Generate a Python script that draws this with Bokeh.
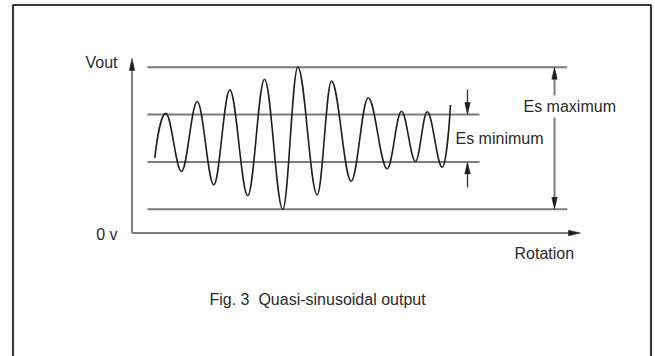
from bokeh.plotting import figure
from bokeh.models import Range1d, ColumnDataSource
from bokeh.embed import file_html
from bokeh.resources import INLINE
from bokeh.core.properties import value

# ---- data (x: rotation units, y: volts, arbitrary units) ----
levels = [1.0, 3.0, 5.0, 7.0]          # Es max low, Es min low, Es min high, Es max high
wave_x = [2.28, 3.38, 4.95, 6.52, 8.18, 9.78, 11.58, 13.25, 15.08, 16.58,
          18.52, 19.95, 21.92, 23.62, 25.52, 26.95, 28.35, 29.52, 31.02, 31.85]
wave_y = [3.17, 5.05, 2.60, 5.55, 2.03, 6.04, 1.58, 6.49, 1.00, 7.00,
          1.61, 6.41, 2.19, 5.71, 2.71, 5.14, 3.02, 5.12, 2.78, 5.41]
outer_line_x = [1.55, 43.52]   # extent of Es maximum lines
inner_line_x = [1.55, 34.75]   # extent of Es minimum lines
x_axis_end = 44.85
y_axis_end = 7.37
esmax_x = 42.25
esmin_x = 33.55
esmin_tail = [6.06, 1.92]
esmax_gap = [5.80, 4.88]

labels = ["Vout", "0 v", "Es maximum", "Es minimum", "Rotation",
          "Fig. 3\u00a0 Quasi-sinusoidal output"]
label_x = [-1.45, -1.45, 39.15, 32.35, 38.25, 7.75]
label_y = [7.21, -0.06, 5.35, 4.00, -0.85, -2.82]
label_align = ["right", "right", "left", "left", "left", "left"]

# ---- scale helpers (pixel size of units) ----
PX_X = 10.0    # px per x unit
PX_Y = 23.69   # px per y unit
W, H = 655, 356
x0_px, y0_px = 131.5, 232.5

p = figure(width=W, height=H, output_backend="svg", toolbar_location=None,
           x_range=Range1d(-x0_px / PX_X, (W - x0_px) / PX_X),
           y_range=Range1d(-(H - y0_px) / PX_Y, y0_px / PX_Y),
           min_border=0, margin=(0, 0, 0, 0))
p.axis.visible = False
p.grid.visible = False
p.outline_line_color = None
p.background_fill_color = "white"
p.border_fill_color = "white"

GRAY = "#7c7c7c"
DARK = "#1e1e1e"

# outer frame
fx0, fx1 = (12.5 - x0_px) / PX_X, (650.5 - x0_px) / PX_X
fy_top, fy_bot = (y0_px - 4.5) / PX_Y, (y0_px - 380) / PX_Y
p.line([fx0, fx0, fx1, fx1], [fy_bot, fy_top, fy_top, fy_bot],
       line_color="#3a3a3a", line_width=2.2)

# level lines
for lv in (levels[0], levels[3]):
    p.line(outer_line_x, [lv, lv], line_color=GRAY, line_width=2)
for lv in (levels[1], levels[2]):
    p.line(inner_line_x, [lv, lv], line_color=GRAY, line_width=2)

# axes
p.line([0, 0], [0, y_axis_end - 0.3], line_color=GRAY, line_width=2)
p.line([0, x_axis_end - 0.8], [0, 0], line_color=GRAY, line_width=2)

def head(tx, ty, direction, length_px=12, width_px=5.5):
    if direction in ("up", "down"):
        L = length_px / PX_Y * (1 if direction == "down" else -1)
        w = width_px / 2 / PX_X
        return [tx - w, tx, tx + w], [ty + L, ty, ty + L]
    L = length_px / PX_X
    w = width_px / 2 / PX_Y
    return [tx - L, tx, tx - L], [ty + w, ty, ty - w]

heads_xs, heads_ys = [], []
for args in [(0, y_axis_end, "up"), (x_axis_end, 0, "right"),
             (esmax_x, levels[3], "up"), (esmax_x, levels[0], "down"),
             (esmin_x, levels[2], "down"), (esmin_x, levels[1], "up")]:
    hx, hy = head(*args)
    heads_xs.append(hx)
    heads_ys.append(hy)

# Es maximum dimension line (with gap for text)
p.line([esmax_x, esmax_x], [levels[3] - 0.3, esmax_gap[0]], line_color=GRAY, line_width=2)
p.line([esmax_x, esmax_x], [esmax_gap[1], levels[0] + 0.3], line_color=GRAY, line_width=2)
# Es minimum arrows
p.line([esmin_x, esmin_x], [esmin_tail[0], levels[2] + 0.3], line_color="#333333", line_width=1.3)
p.line([esmin_x, esmin_x], [esmin_tail[1], levels[1] - 0.3], line_color="#333333", line_width=1.3)

p.patches(heads_xs, heads_ys, fill_color=DARK, line_color=DARK, line_width=0.5)

# wave as smooth bezier segments between extrema
a = 0.36
seg = dict(x0=[], y0=[], x1=[], y1=[], cx0=[], cy0=[], cx1=[], cy1=[])
n = len(wave_x)
for i in range(n - 1):
    xa, ya, xb, yb = wave_x[i], wave_y[i], wave_x[i + 1], wave_y[i + 1]
    dx = xb - xa
    if i == 0:
        c0 = (xa + 0.25 * dx, ya + 0.55 * (yb - ya))
    else:
        c0 = (xa + a * dx, ya)
    if i == n - 2:
        c1 = (xb - 0.25 * dx, yb - 0.55 * (yb - ya))
    else:
        c1 = (xb - a * dx, yb)
    seg["x0"].append(xa); seg["y0"].append(ya)
    seg["x1"].append(xb); seg["y1"].append(yb)
    seg["cx0"].append(c0[0]); seg["cy0"].append(c0[1])
    seg["cx1"].append(c1[0]); seg["cy1"].append(c1[1])
p.bezier(x0="x0", y0="y0", x1="x1", y1="y1", cx0="cx0", cy0="cy0",
         cx1="cx1", cy1="cy1", source=ColumnDataSource(seg),
         line_color=DARK, line_width=1.6)

src = ColumnDataSource(dict(x=label_x, y=label_y, t=labels, al=label_align))
p.text(x="x", y="y", text="t", text_align="al", text_baseline="middle",
       source=src, text_font=value("Liberation Sans"), text_font_size="16px",
       text_color="#2a2a2a")

open("out.html", "w").write(file_html(p, INLINE))
